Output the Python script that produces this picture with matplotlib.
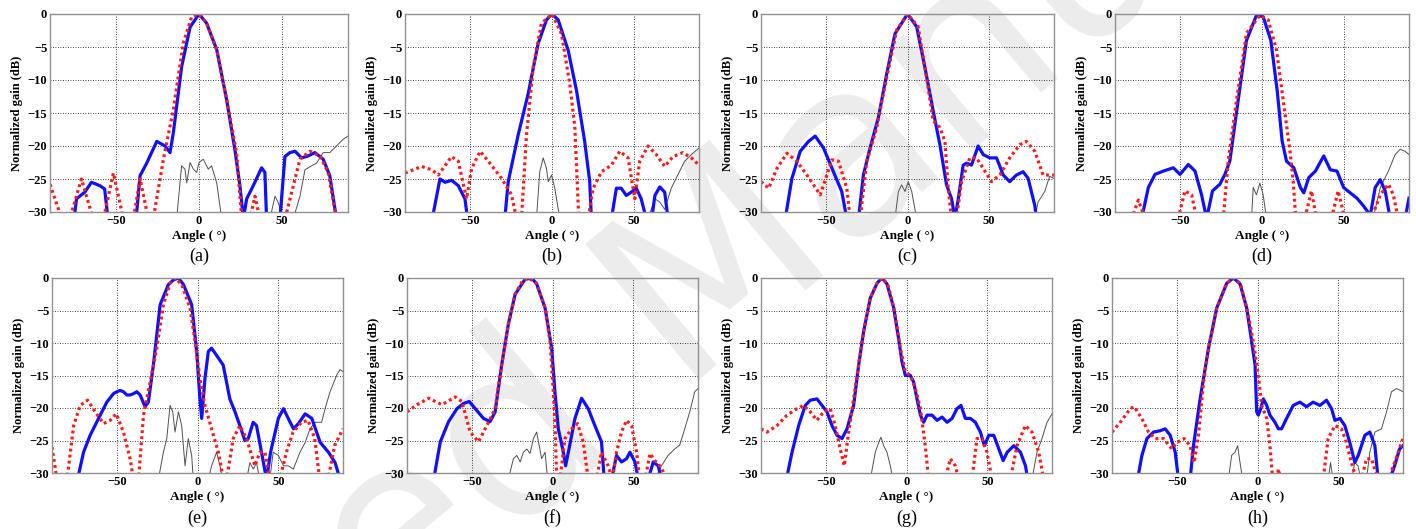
import numpy as np
import matplotlib.pyplot as plt

plt.rcParams['font.family'] = ['Liberation Serif', 'DejaVu Serif']

# (angle, dB) points; -40 means the curve is below the axis
a_meas = [(-90, -40), (-75.4, -31), (-74, -28), (-69, -27), (-65, -25.5), (-60, -26), (-57, -26.5), (-55, -31),
          (-46, -40), (-38, -31), (-35.6, -24.5), (-31.6, -22.6), (-25.5, -19.3), (-20.5, -20), (-17.5, -21),
          (-15.5, -18), (-10.5, -8), (-5.4, -2), (0, 0), (4.6, -1.4), (10.7, -5.4), (16.7, -13), (21.7, -20.6),
          (24.7, -26), (26.8, -31), (28.8, -28), (32.8, -26), (37.8, -23.3), (39.8, -24), (40.8, -31), (45, -40),
          (48.9, -31), (51.9, -21.6), (54.9, -21), (58, -20.8), (62, -21.8), (66, -21.5), (70, -21), (75, -22),
          (79, -24.5), (83, -31), (90, -40)]
a_sim = [(-90, -25.8), (-83, -31), (-80, -40), (-78, -31), (-71, -25), (-64, -31), (-61, -40), (-57.7, -31),
         (-51.7, -24.1), (-45.7, -31), (-42, -40), (-39.6, -31), (-35.6, -25), (-30.6, -31), (-29, -40),
         (-27.6, -31), (-21.5, -22), (-15.5, -14.5), (-9.5, -4.4), (-4.4, -0.4), (0, 0), (4.6, -1.4), (10.7, -5.4),
         (16.7, -13), (22.7, -21), (25.8, -31), (28, -40), (30.8, -31), (33.8, -27.6), (36.8, -31), (45, -40),
         (52, -31), (57, -26), (61, -22), (67, -20.8), (73, -21.5), (78, -24), (83, -31), (90, -40)]
a_cross = [(-20, -40), (-13.5, -31), (-10.5, -23), (-8.5, -23.5), (-7.4, -25.6), (-5.4, -22.5), (-3.4, -23.5),
           (-1.4, -24), (0, -22.5), (2.6, -22), (5.6, -23.5), (7.6, -23), (10.7, -25.6), (13.7, -31), (30, -40),
           (42.9, -31), (45.9, -27.6), (47.9, -28.6), (51, -31), (54, -40), (57, -31), (61, -27.6), (64, -23.6),
           (68, -23), (71, -22.6), (75, -21), (79, -21), (83, -20), (87, -19), (90, -18.5)]

b_meas = [(-90, -40), (-73.3, -31), (-68.6, -25), (-65.5, -25.5), (-61.5, -25.2), (-57.4, -26), (-53.3, -28),
          (-51.7, -31), (-40, -40), (-28.9, -31), (-26.8, -25.4), (-20.7, -18.3), (-14.6, -12.1), (-8.5, -4.5),
          (-3.4, -0.9), (0, 0), (3.8, -0.9), (9.9, -5.5), (15, -11.6), (20, -19.3), (23.1, -25.4), (24.1, -31),
          (30, -40), (36.4, -31), (39.4, -26.4), (42.4, -26.4), (45.5, -27.5), (48.5, -27), (51.6, -26.4),
          (54.6, -28), (57.7, -31), (60, -33), (63, -27.5), (66, -26.2), (69, -27), (71, -31), (90, -40)]
b_sim = [(-90, -24.1), (-79.8, -23.1), (-73.7, -23.6), (-69.6, -24.4), (-61.5, -21.6), (-57.4, -22.3),
         (-52.3, -28), (-49.2, -23.4), (-44, -20.8), (-39, -22.3), (-30.9, -24.9), (-24.8, -27.4), (-21.7, -31),
         (-20, -40), (-18.7, -31), (-15.6, -18.3), (-11.5, -8), (-6.4, -1.4), (0, 0), (5.8, -3), (10.9, -10.6),
         (14, -17.2), (16.4, -31), (19, -40), (22.1, -31), (25.2, -26.4), (30.3, -23.9), (36.4, -22.9),
         (41.5, -20.8), (46.6, -21.8), (50.7, -28), (53.7, -22.3), (58.8, -20), (63.9, -21.3), (69, -23.1),
         (74.1, -21.6), (80.2, -21), (85.3, -21.8), (90, -22.9)]
b_cross = [(-15, -40), (-9.5, -31), (-7.5, -23.9), (-5.4, -21.8), (-3.4, -23.4), (-2.3, -25.4), (-0.3, -24.4),
           (1.7, -26.4), (4.8, -31), (30, -40), (58.8, -31), (63, -28), (66, -28.5), (69, -29.6), (73, -26.4),
           (77, -24.4), (81.2, -22.3), (85.3, -21.3), (90, -20.3)]

c_meas = [(-90, -40), (-75.1, -31), (-71, -24.9), (-65.9, -20.8), (-60.8, -19.3), (-56.7, -18.5), (-51.6, -20.3),
          (-45.5, -23.9), (-40.4, -26.9), (-37.3, -31), (-34, -40), (-30.1, -31), (-27.1, -24.4), (-23, -20.3),
          (-17.9, -15.7), (-12.8, -9.1), (-7.7, -3), (0, 0), (5.6, -1.9), (10.7, -8.1), (15.8, -14.7),
          (19.9, -19.8), (24, -25.9), (27.1, -28), (29.1, -31), (31.2, -28), (34.2, -22.9), (36.3, -22.6),
          (39.3, -22.9), (43.4, -20), (46.5, -21.3), (50.6, -21.8), (54.7, -21.8), (58.8, -24.4), (62.8, -25.4),
          (66.9, -24.4), (71, -23.9), (74.1, -24.9), (78.2, -29), (79.2, -31), (90, -40)]
c_sim = [(-90, -25.4), (-85.3, -26.4), (-80.2, -23.4), (-74.1, -21.1), (-68, -22.3), (-61.8, -24.4),
         (-53.6, -27.4), (-49.5, -24.4), (-46.5, -22.1), (-42.4, -22.3), (-37.3, -26.4), (-35.2, -31),
         (-32, -40), (-29.1, -31), (-25, -22.3), (-18.9, -17.2), (-12.8, -9.6), (-6.6, -2.4), (0, 0), (6.5, -1.9),
         (11.7, -9.6), (15.8, -16.2), (19.9, -17.2), (23, -19.3), (25, -26.4), (27.1, -31), (28.5, -40),
         (30.1, -31), (33.2, -25.4), (38.3, -21.8), (42.4, -21.8), (46.5, -23.4), (51.6, -25.4), (56.7, -24.4),
         (62.8, -21.8), (69, -19.8), (73, -19.3), (78.2, -20.8), (83.3, -24.4), (90, -24.4)]
c_cross = [(-12, -40), (-7.7, -31), (-5.6, -26.9), (-3.6, -25.9), (-1.5, -26.9), (0.5, -25.4), (2.6, -26.9),
           (5.6, -31), (40, -40), (78.2, -31), (80.2, -28.5), (84.3, -26.9), (87.3, -24.6), (90, -24.9)]

d_meas = [(-90, -40), (-73.7, -31), (-69.6, -26.3), (-65.5, -24.3), (-60.4, -23.8), (-54.3, -23.3), (-50.2, -24.3),
          (-45.1, -22.8), (-41, -23.8), (-37, -27.4), (-33.9, -31), (-30.3, -26.8), (-25.8, -25.8), (-22.7, -24.3),
          (-19.7, -22.3), (-14.6, -13.1), (-9.5, -4), (-3.4, -0.2), (0.7, -0.4), (5.4, -4), (9.3, -11.6),
          (12.3, -19.2), (15, -22.3), (19.5, -23.3), (23.5, -26.3), (25.6, -27.1), (28.6, -24.8), (32.7, -23.8),
          (37.8, -21.5), (41.8, -23.6), (45.9, -23.8), (50, -26.3), (54, -27.1), (58.1, -27.9), (62.2, -29.1),
          (66.3, -30.5), (69.3, -26.3), (72.4, -25.1), (75.4, -26.8), (78.5, -31), (83, -40), (87.6, -31),
          (90, -27.9)]
d_sim = [(-90, -40), (-79.8, -31), (-75.7, -28.2), (-71.6, -31), (-65, -40), (-51.3, -31), (-47.2, -26.8),
         (-43.1, -27.4), (-40, -31), (-30, -40), (-23.7, -31), (-20.7, -22.3), (-15.6, -13.1), (-9.5, -2.9),
         (-1.3, -0.2), (3.8, -0.9), (8.9, -5.5), (13, -13.1), (17.1, -20.7), (19.1, -25.3), (20.7, -31),
         (23, -40), (26.2, -31), (30.3, -26.8), (33.3, -31), (38, -40), (42.5, -31), (46.6, -26.8), (50.7, -31),
         (58, -40), (67, -31), (72.4, -27.4), (77.4, -25.8), (80.4, -27.4), (83.4, -31), (90, -40)]
d_cross = [(-10, -40), (-6.4, -31), (-5.4, -26.3), (-3.4, -27.4), (-1.3, -25.6), (0.7, -27.4), (2.8, -31),
           (40, -40), (68, -31), (72.4, -26.3), (77.4, -23.8), (81.5, -21.3), (84.6, -20.5), (87.6, -20.8),
           (90, -21.3)]

e_meas = [(-90, -40), (-74.2, -31), (-70.5, -26.8), (-66.4, -24.2), (-61.2, -21.6), (-56.1, -19.1), (-52, -17.8),
          (-49.9, -17.5), (-47.9, -17.3), (-45.8, -17.5), (-43.7, -18), (-41.7, -18), (-39.6, -17.8),
          (-37.6, -17.5), (-35.5, -18), (-32.4, -19.8), (-30.4, -19.1), (-27.3, -13.4), (-23.1, -4.1),
          (-18, -1), (-14.9, -0.3), (-11.8, 0), (-8.7, -1), (-3.6, -4.1), (-0.5, -11.3), (1.5, -18.6),
          (2.6, -21.6), (4.6, -15.5), (6.7, -11.3), (8.7, -10.8), (11.8, -11.9), (15.9, -13.4), (20, -18.6),
          (23.2, -20.6), (26.2, -22.7), (29.3, -25), (31.4, -24.7), (34.4, -22.2), (36.5, -22.7), (39.6, -26.8),
          (42.7, -31), (45.2, -26.8), (50, -21.6), (53.2, -20.1), (57.3, -22.2), (59.4, -23.2), (62.4, -22.4),
          (66.6, -20.9), (70.7, -21.6), (75.9, -25.3), (81, -26.8), (85.1, -28.4), (88.2, -31), (90, -33)]
e_sim = [(-90, -26), (-86.9, -31), (-84, -40), (-80.7, -31), (-76.6, -22.7), (-72.5, -19.6), (-68, -18.8),
         (-63.3, -20.6), (-58.1, -22.4), (-54, -21.9), (-50.3, -20.9), (-45.8, -23.7), (-41.7, -27.8),
         (-39.6, -31), (-38, -40), (-36.5, -31), (-33.4, -21.1), (-29.3, -16), (-25.2, -10.8), (-21.1, -4.1),
         (-16.9, -0.8), (-13.9, 0), (-9.8, -1), (-4.6, -4.6), (-1.5, -9.8), (1.5, -15.5), (4.6, -19.6),
         (8.7, -23.2), (12.9, -26.8), (16, -31), (17, -40), (18, -31), (22.1, -24.7), (26.2, -22.7), (30.3, -24.7),
         (35.5, -28.9), (38.6, -26.8), (41.7, -26.8), (44.7, -31), (48, -40), (50.9, -31), (55, -26.8),
         (59.1, -23.7), (64.3, -22.2), (68.4, -21.9), (72.5, -24.7), (75.6, -31), (78, -40), (80.7, -31),
         (84.8, -25.8), (90, -23.2)]
e_cross = [(-30, -40), (-24.2, -31), (-21.1, -26.8), (-19, -24.7), (-17, -19.6), (-15.3, -20.6), (-13.9, -23.7),
           (-11.8, -20.6), (-9.8, -22.7), (-7.7, -28.9), (-5.7, -24.7), (-3.6, -27.3), (-2.6, -31), (3, -40),
           (6.7, -31), (8.7, -28.9), (11.8, -26.8), (13.9, -28.9), (15.5, -31), (25, -40), (30.4, -31),
           (32.4, -28.4), (34.5, -29.4), (36.5, -28.4), (38.5, -31), (42, -40), (44.7, -31), (46.8, -26.8),
           (50, -27.3), (53.2, -28.9), (56.2, -28.9), (59.3, -29.4), (63.4, -26.8), (66.6, -25.3), (69.6, -23.2),
           (72.7, -22.2), (76.8, -22.2), (78.9, -20.1), (82, -17.5), (86.2, -14.9), (88.2, -14.1), (90, -14.4)]

f_meas = [(-90, -40), (-73.5, -31), (-69.4, -25.2), (-64.3, -22.1), (-59.1, -20.1), (-55, -19.3), (-51.5, -19),
          (-47.8, -20.1), (-42.7, -21.6), (-38.6, -22.1), (-35.5, -20.6), (-31.4, -13.3), (-27.3, -7.1),
          (-23.1, -2.5), (-17, -0.2), (-12.9, 0), (-9.8, -0.9), (-4.6, -4.6), (-0.5, -10.8), (1.5, -17.5),
          (3.6, -23.2), (6.7, -26.8), (8.1, -28.9), (9.8, -26.8), (13.9, -21.6), (18, -18.5), (22.1, -20.1),
          (26.2, -22.7), (30.3, -25.2), (32, -31), (34, -40), (36.5, -31), (39.6, -27.3), (42.7, -28.3),
          (45.8, -27.8), (47.9, -26.8), (51, -28.3), (53.1, -31), (56, -40), (59.2, -31), (62.3, -28.3),
          (65.4, -28.9), (67.4, -31), (90, -40)]
f_sim = [(-90, -20.6), (-83.8, -19.5), (-76.6, -18.5), (-68.4, -19.5), (-60.2, -18.3), (-56.1, -19),
         (-50.9, -23.7), (-45.8, -25.2), (-40.6, -22.7), (-35.5, -20.1), (-31.4, -13.3), (-27.3, -7.1),
         (-23.1, -2.5), (-18.5, -0.4), (-14.9, 0), (-10, -0.8), (-4.6, -4.6), (-1.5, -9.8), (0.5, -17.5),
         (1.5, -21.6), (2.6, -31), (3.5, -40), (4.6, -31), (7.7, -24.7), (11.8, -23.2), (15.5, -22.4),
         (19, -25.2), (22.1, -31), (25, -40), (27.2, -31), (30.3, -26.8), (34.4, -28.9), (37, -31), (39.6, -26.8),
         (42.7, -23.7), (45.8, -21.9), (48.9, -22.7), (52, -26.8), (54, -31), (56, -40), (57.3, -31),
         (60.3, -27), (63.4, -28.1), (67.4, -29.2), (70.4, -31), (90, -40)]
f_cross = [(-35, -40), (-27.3, -31), (-24.2, -27.8), (-22.1, -27.3), (-20, -28.3), (-18, -26.8), (-15.9, -26.3),
           (-13.9, -27), (-11.8, -24.7), (-9.8, -23.7), (-8.7, -25.2), (-6.7, -27.8), (-4.6, -26.8), (-3, -31),
           (40, -40), (63.3, -31), (67.4, -28.9), (71.5, -27.3), (75.6, -26.3), (78.7, -25.7), (81.8, -23.2),
           (84.9, -20.6), (88, -17.5), (90, -17)]

g_meas = [(-90, -40), (-74.3, -31), (-70.8, -26.8), (-66.7, -22.7), (-62.6, -19.6), (-59.5, -18.8), (-55.4, -18.6),
          (-52.3, -19.6), (-49.2, -20.6), (-46.1, -22.7), (-43, -24.2), (-39.9, -24.7), (-36.8, -23.2),
          (-32.7, -19.6), (-29.6, -13.4), (-26.5, -8.2), (-22.4, -3.1), (-18.2, -0.8), (-15.2, 0), (-12.1, -0.9),
          (-7.9, -4.6), (-4.9, -9.3), (-2.8, -12.9), (-0.7, -15), (2.4, -15), (4.4, -16), (6.5, -18.6),
          (8.6, -21.1), (10.6, -22.2), (12.7, -21.1), (15.8, -21.1), (18.9, -21.9), (22, -21.4), (25.1, -22.2),
          (28.2, -21.6), (31.2, -20.1), (33.7, -19.6), (36.4, -21.6), (39.5, -21.6), (42.6, -22.2), (45.7, -23.7),
          (48.2, -25.8), (50.9, -24.2), (54, -24.2), (57.1, -26.3), (59.8, -28.1), (62.3, -26.8), (66.4, -25.8),
          (70.5, -26.8), (73.6, -28.9), (75, -31), (90, -40)]
g_sim = [(-90, -23.2), (-86.3, -23.7), (-80.1, -22.7), (-73.9, -21.1), (-67.7, -20.1), (-63.6, -19.6),
         (-59.5, -20.6), (-55.4, -21.9), (-51.3, -20.6), (-47.2, -20.1), (-44.1, -22.7), (-41, -26.3),
         (-38.5, -28.9), (-35.8, -23.7), (-32.7, -18.6), (-29.6, -13.4), (-26.5, -8.2), (-22.4, -3.1),
         (-18.2, -0.8), (-15.2, 0), (-11.5, -1), (-7.9, -4.6), (-3.8, -10.8), (-0.7, -14.4), (2.4, -15),
         (5.5, -17), (8.6, -20.1), (11.6, -25.8), (13.7, -31), (18, -40), (24, -31), (27.1, -27.8), (30.2, -28.9),
         (32.3, -31), (36, -40), (40.5, -31), (43.6, -24.7), (46.7, -24.7), (49.8, -26.8), (52.9, -31), (58, -40),
         (64.2, -31), (68.4, -25.8), (73.5, -22.7), (77.6, -23.7), (81.8, -26.8), (84.9, -31), (90, -40)]
g_cross = [(-28, -40), (-22.4, -31), (-19.3, -26.8), (-17.2, -25.3), (-15.8, -24.5), (-14.1, -25.8),
           (-12.1, -26.8), (-10, -28.9), (-8.4, -31), (40, -40), (77.6, -31), (80.7, -26.8), (83.8, -24.7),
           (86.9, -22.2), (90, -20.9)]

h_meas = [(-90, -40), (-74.2, -31), (-71.5, -27.3), (-68.4, -24.7), (-64.3, -23.7), (-60.2, -23.5), (-57.1, -23.2),
          (-54, -24.2), (-50.9, -26.8), (-48.9, -31), (-45, -40), (-41.7, -31), (-39.6, -25.8), (-35.5, -18.6),
          (-30.3, -10.8), (-25.2, -4.6), (-19, -0.8), (-14.9, 0), (-10.8, -0.9), (-6.7, -4.6), (-3.6, -9.8),
          (-1.5, -13.4), (-0.5, -20.6), (0.5, -21.1), (2, -20.1), (3.6, -18.6), (5.7, -19.6), (7.7, -21.1),
          (10.8, -22.2), (12.9, -23.2), (14.9, -23.2), (18, -21.6), (22.1, -19.6), (26.2, -19.1), (30.3, -19.8),
          (34.4, -19.1), (38.6, -19.6), (42.7, -18.8), (45.8, -20.1), (47.9, -21.9), (51, -21.6), (54, -22.7),
          (57.1, -25.3), (60.2, -28.4), (62.3, -27.3), (66.4, -24.2), (69.5, -23.7), (72.6, -25.8), (74.6, -31),
          (78, -40), (81.8, -31), (84.8, -28.9), (87.9, -26.3), (90, -25.8)]
h_sim = [(-90, -23.7), (-84.9, -22.2), (-78.7, -20.1), (-76.3, -19.8), (-71.6, -21.6), (-67.4, -23.7),
         (-63.3, -24.7), (-58.1, -24.7), (-53, -26.3), (-49.9, -25.3), (-45.4, -24.7), (-41.7, -25.8),
         (-39.2, -28.4), (-36.5, -24.2), (-33.4, -16), (-30.3, -10.8), (-25.2, -4.6), (-19, -0.8), (-14.9, 0),
         (-10.5, -0.9), (-5.7, -5.7), (-2.6, -9.8), (0.5, -15), (2.6, -19.6), (5.7, -21.6), (7.7, -25.8),
         (9.4, -31), (11, -33), (12.9, -29.4), (14.5, -31), (30, -40), (40.6, -31), (43.7, -24.7), (47.9, -22.7),
         (51.9, -23.2), (55, -25.3), (58.1, -28.4), (61.2, -31), (62.5, -40), (64.3, -31), (67.4, -27.8),
         (70.5, -27.8), (74.6, -31), (78, -40), (80.8, -31), (84.8, -28.4), (90, -24.7)]
h_cross = [(-24, -40), (-18, -31), (-16, -27.3), (-13.9, -26.8), (-12.3, -25.8), (-10.8, -28.4), (-9.2, -31),
           (30, -40), (43.7, -31), (45.2, -28.4), (46.7, -31), (52, -40), (58.1, -31), (60.2, -28.4),
           (62.2, -28.9), (64, -31), (66, -40), (67.4, -31), (69.5, -26.8), (72.6, -23.7), (76.7, -23.2),
           (79.8, -20.6), (82.9, -17.5), (86, -17), (90, -17.5)]

captions = ['(a)', '(b)', '(c)', '(d)', '(e)', '(f)', '(g)', '(h)']
meas = [a_meas, b_meas, c_meas, d_meas, e_meas, f_meas, g_meas, h_meas]
sims = [a_sim, b_sim, c_sim, d_sim, e_sim, f_sim, g_sim, h_sim]
cross = [a_cross, b_cross, c_cross, d_cross, e_cross, f_cross, g_cross, h_cross]

W, H = 1416, 529
fig = plt.figure(figsize=(W / 100, H / 100), dpi=100)

# watermark behind the panels
fig.text(690 / W, 1 - 300 / H, 'Accepted Manuscript', rotation=40, ha='center', va='center',
         fontsize=175, color='#ececec', family='DejaVu Sans', zorder=-1)

lefts = [[50, 405, 761, 1115], [52, 407, 761, 1112]]
rights = [[348, 699, 1054, 1409], [343, 698, 1052, 1403]]
tops = [14, 278]
bottoms = [212, 473]
cap_y = [256, 518]

for i in range(8):
    r, c = divmod(i, 4)
    l, rr = lefts[r][c], rights[r][c]
    ax = fig.add_axes([l / W, 1 - bottoms[r] / H, (rr - l) / W, (bottoms[r] - tops[r]) / H])
    ax.set_facecolor('none')

    x, y = zip(*cross[i])
    ax.plot(x, y, color='#505050', lw=0.7)
    x, y = zip(*meas[i])
    ax.plot(x, y, color='#1010ff', lw=2.3)
    x, y = zip(*sims[i])
    ax.plot(x, y, color='#ff1a1a', lw=2.3, linestyle=(0, (0.9, 1.0)))

    ax.set_xlim(-90, 90)
    ax.set_ylim(-30, 0)
    ax.set_xticks([-50, 0, 50])
    ax.set_yticks(np.arange(-30, 1, 5))
    ax.grid(True, color='black', linestyle=(0, (1, 2)), lw=0.6)
    ax.tick_params(length=0, labelsize=9, pad=2)
    for lab in ax.get_xticklabels() + ax.get_yticklabels():
        lab.set_fontweight('bold')
    for s in ax.spines.values():
        s.set_color('#909090')
        s.set_linewidth(1.0)
    ax.set_xlabel('Angle ( °)', fontsize=9.5, fontweight='bold', labelpad=2)
    ax.set_ylabel('Normalized gain (dB)', fontsize=9, fontweight='bold', labelpad=3)
    fig.text((l + rr) / 2 / W, 1 - cap_y[r] / H, captions[i], ha='center', va='center', fontsize=13)

fig.savefig('out.png', dpi=100)
